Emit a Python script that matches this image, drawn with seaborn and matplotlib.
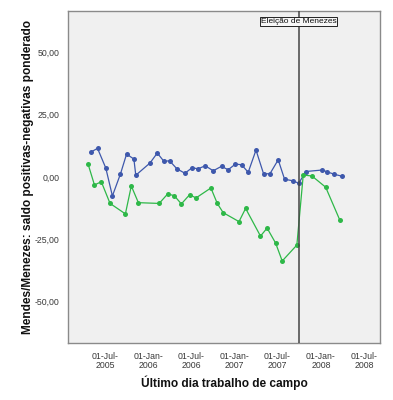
import matplotlib
matplotlib.use("Agg")
import pandas as pd
import seaborn as sns
import matplotlib.pyplot as plt
import matplotlib.dates as mdates

# ---- data ----
mendes_dates = ["2005-05-02", "2005-05-30", "2005-07-04", "2005-08-01", "2005-09-04",
                "2005-09-30", "2005-10-31", "2005-11-08", "2006-01-07", "2006-02-07",
                "2006-03-07", "2006-03-31", "2006-05-01", "2006-06-04", "2006-07-04",
                "2006-07-30", "2006-08-29", "2006-10-02", "2006-11-06", "2006-12-04",
                "2007-01-04", "2007-01-30", "2007-02-27", "2007-04-01", "2007-05-03",
                "2007-05-30", "2007-07-04", "2007-07-31", "2007-09-03", "2007-09-29",
                "2007-10-29", "2008-01-06", "2008-01-27", "2008-02-26", "2008-03-31"]
mendes_vals = [10.0, 11.5, 3.6, -7.6, 1.2, 9.2, 7.2, 0.7, 5.6, 9.6,
               6.3, 6.5, 3.3, 1.5, 3.7, 3.3, 4.5, 2.5, 4.3, 2.9,
               5.2, 4.9, 1.9, 10.8, 1.3, 1.3, 6.9, -0.9, -1.5, -2.5,
               2.2, 2.8, 2.1, 1.1, 0.3]

menezes_dates = ["2005-04-20", "2005-05-17", "2005-06-15", "2005-07-22", "2005-09-25",
                 "2005-10-20", "2005-11-19", "2006-02-15", "2006-03-23", "2006-04-20",
                 "2006-05-20", "2006-06-24", "2006-07-21", "2006-09-22", "2006-10-19",
                 "2006-11-13", "2007-01-19", "2007-02-16", "2007-04-20", "2007-05-18",
                 "2007-06-23", "2007-07-21", "2007-09-21", "2007-10-18", "2007-11-24",
                 "2008-01-21", "2008-03-20"]
menezes_vals = [5.2, -3.2, -1.9, -10.6, -14.8, -3.6, -10.3, -10.6, -6.8, -7.5,
                -10.8, -7.1, -8.4, -4.4, -10.6, -14.3, -17.9, -12.6, -23.7, -20.5,
                -26.5, -33.7, -27.3, 0.8, 0.4, -4.1, -17.1]

event_date = "2007-09-28"
event_label = "Eleição de Menezes"
y_ticks = [-50, -25, 0, 25, 50]
x_ticks = ["2005-07-01", "2006-01-01", "2006-07-01", "2007-01-01",
           "2007-07-01", "2008-01-01", "2008-07-01"]

# ---- styling ----
sns.set_style("white")
plt.rcParams["font.family"] = ["Liberation Sans", "DejaVu Sans"]

BLUE = "#3E58AC"
GREEN = "#2EB848"

df_a = pd.DataFrame({"date": pd.to_datetime(mendes_dates), "value": mendes_vals})
df_b = pd.DataFrame({"date": pd.to_datetime(menezes_dates), "value": menezes_vals})

fig = plt.figure(figsize=(3.93, 4.0), dpi=100)
ax = fig.add_axes([68 / 393, 1 - 343 / 400, (380 - 68) / 393, (343 - 11) / 400])
ax.set_facecolor("#F0F0F0")

sns.lineplot(data=df_a, x="date", y="value", ax=ax, color=BLUE, lw=0.9,
             marker="o", markersize=3.6, markeredgewidth=0, markerfacecolor=BLUE)
sns.lineplot(data=df_b, x="date", y="value", ax=ax, color=GREEN, lw=0.9,
             marker="o", markersize=3.6, markeredgewidth=0, markerfacecolor=GREEN)

ev = pd.Timestamp(event_date)
ax.axvline(ev, color="#444444", lw=1.1, zorder=5)
ax.text(ev, 62.2, event_label, ha="center", va="center", fontsize=6,
        color="#111111", zorder=6,
        bbox=dict(boxstyle="square,pad=0.12", facecolor="#F7F7F7",
                  edgecolor="#222222", linewidth=0.7))

ax.set_xlim(pd.Timestamp("2005-01-25"), pd.Timestamp("2008-09-07"))
ax.set_ylim(-66.6, 66.6)

ax.set_yticks(y_ticks)
ax.set_yticklabels([f"{v:.2f}".replace(".", ",") for v in y_ticks])
ax.set_xticks(pd.to_datetime(x_ticks))
ax.xaxis.set_major_formatter(mdates.DateFormatter("%d-%b-\n%Y"))

ax.tick_params(axis="both", direction="out", length=4, width=1,
               color="#333333", labelsize=6.3, labelcolor="#3a3a3a", pad=2)
ax.tick_params(axis="x", pad=2.5)
for lbl in ax.get_xticklabels():
    lbl.set_horizontalalignment("center")
    lbl.set_linespacing(0.95)

for s in ax.spines.values():
    s.set_visible(True)
    s.set_color("#8A8A8A")
    s.set_linewidth(1.0)

ax.set_xlabel("Último dia trabalho de campo", fontsize=8.6, color="#111111",
              fontweight="bold")
ax.set_ylabel("Mendes/Menezes: saldo positivas-negativas ponderado",
              fontsize=8.6, color="#111111", fontweight="bold")
ax.xaxis.set_label_coords(0.5, (343 - 383) / 332, transform=ax.transAxes)
ax.xaxis.label.set_va("center")
ax.yaxis.set_label_coords((28 - 68) / 312, 0.5, transform=ax.transAxes)
ax.yaxis.label.set_va("center")

fig.savefig("out.png", dpi=100, facecolor="white")
